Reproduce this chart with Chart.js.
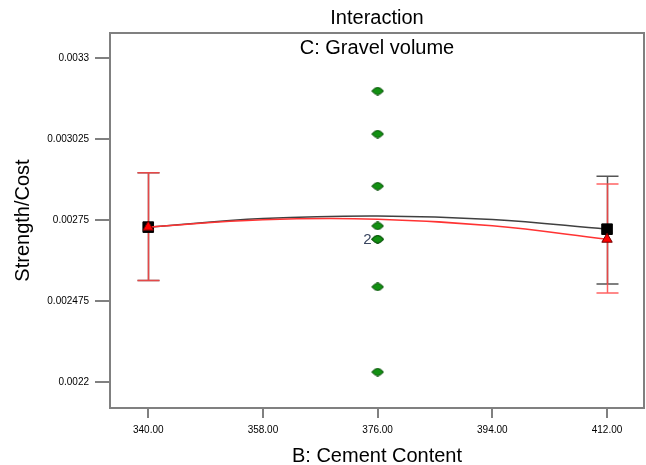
<!DOCTYPE html>
<html><head><meta charset="utf-8">
<script src="https://cdn.jsdelivr.net/npm/chart.js@4.4.1/dist/chart.umd.min.js"></script>
<style>html,body{margin:0;padding:0;background:#fff;}canvas{display:block;}</style>
</head><body>
<canvas id="c" width="646" height="465"></canvas>
<script>
const xLevels = [340, 358, 376, 394, 412];
const blackCurve = [0.002726, 0.002755, 0.002764, 0.002752, 0.002719];
const redCurve = [0.002726, 0.002751, 0.002753, 0.002731, 0.002685];
const barX = [340, 412];
const blackLow = [0.002545, 0.002533];
const blackHigh = [0.002911, 0.002899];
const redLow = [0.002545, 0.002502];
const redHigh = [0.002911, 0.002872];
const designX = [376, 376, 376, 376, 376, 376, 376, 376];
const designY = [0.003188, 0.003042, 0.002865, 0.002730, 0.002685, 0.002685, 0.002523, 0.002234];
const designLabels = ['', '', '', '', '2', '', '', ''];
const xTicks = [340, 358, 376, 394, 412];
const xTickLabels = ['340.00', '358.00', '376.00', '394.00', '412.00'];
const yTicks = [0.0022, 0.002475, 0.00275, 0.003025, 0.0033];
const yTickLabels = ['0.0022', '0.002475', '0.00275', '0.003025', '0.0033'];

const FONT = '"Liberation Sans", Arial, sans-serif';

// green diamond marker
const gm = document.createElement('canvas');
gm.width = 13; gm.height = 9;
(function(){
  const g = gm.getContext('2d');
  g.beginPath();
  g.moveTo(0.6, 4.5);
  g.quadraticCurveTo(4, 0.9, 6.5, 0.6);
  g.quadraticCurveTo(9, 0.9, 12.4, 4.5);
  g.quadraticCurveTo(9, 8.1, 6.5, 8.4);
  g.quadraticCurveTo(4, 8.1, 0.6, 4.5);
  g.closePath();
  g.fillStyle = '#129012';
  g.fill();
  g.lineWidth = 1;
  g.strokeStyle = '#0b4a0b';
  g.stroke();
})();

const errorBars = {
  id: 'errorBars',
  beforeDatasetsDraw(chart) {
    const {ctx, scales: {x, y}} = chart;
    const draw = (lo, hi, color) => {
      ctx.save();
      ctx.strokeStyle = color;
      ctx.lineWidth = 1.5;
      barX.forEach((v, i) => {
        const px = Math.round(x.getPixelForValue(v)) + 0.5;
        const p1 = y.getPixelForValue(lo[i]);
        const p2 = y.getPixelForValue(hi[i]);
        ctx.beginPath();
        ctx.moveTo(px, p1); ctx.lineTo(px, p2);
        ctx.moveTo(px - 11, p1); ctx.lineTo(px + 11, p1);
        ctx.moveTo(px - 11, p2); ctx.lineTo(px + 11, p2);
        ctx.stroke();
      });
      ctx.restore();
    };
    draw(blackLow, blackHigh, '#555555');
    draw(redLow, redHigh, 'rgba(255,70,70,0.85)');
  }
};

const decorations = {
  id: 'decorations',
  afterDatasetsDraw(chart) {
    const {ctx, scales: {x, y}} = chart;
    ctx.save();
    ctx.fillStyle = '#3a4660';
    ctx.font = '15px ' + FONT;
    ctx.textAlign = 'right';
    ctx.textBaseline = 'middle';
    designLabels.forEach((t, i) => {
      if (!t) return;
      ctx.fillText(t, x.getPixelForValue(designX[i]) - 6, y.getPixelForValue(designY[i]) + 1);
    });
    ctx.restore();
  },
  afterDraw(chart) {
    const {ctx, chartArea: a} = chart;
    ctx.save();
    ctx.strokeStyle = '#808080';
    ctx.lineWidth = 2;
    ctx.strokeRect(a.left, a.top, a.right - a.left, a.bottom - a.top);
    ctx.fillStyle = '#000';
    ctx.font = '20px ' + FONT;
    ctx.textAlign = 'center';
    ctx.textBaseline = 'middle';
    ctx.fillText('C: Gravel volume', (a.left + a.right) / 2, a.top + 15);
    ctx.restore();
  }
};

const endOnly = (r) => (c) => (c.dataIndex === 0 || c.dataIndex === xLevels.length - 1) ? r : 0;

new Chart(document.getElementById('c'), {
  type: 'line',
  data: {
    datasets: [
      {
        order: 2,
        data: xLevels.map((v, i) => ({x: v, y: blackCurve[i]})),
        borderColor: '#404040', borderWidth: 1.5, tension: 0.4,
        pointStyle: 'rect', pointRadius: endOnly(7.5), pointBackgroundColor: '#000', pointBorderColor: '#000', pointBorderWidth: 1
      },
      {
        order: 1,
        data: xLevels.map((v, i) => ({x: v, y: redCurve[i]})),
        borderColor: '#ff3333', borderWidth: 1.5, tension: 0.4,
        pointStyle: 'triangle', pointRadius: endOnly(6), pointBackgroundColor: '#ff0000', pointBorderColor: '#700000', pointBorderWidth: 1
      },
      {
        order: 0,
        data: designX.map((v, i) => ({x: v, y: designY[i]})),
        showLine: false, pointStyle: gm, pointRadius: 6
      }
    ]
  },
  options: {
    responsive: false, animation: false, devicePixelRatio: 1,
    layout: {autoPadding: false, padding: {left: 0, right: 2, top: 0, bottom: 0}},
    plugins: {
      legend: {display: false}, tooltip: {enabled: false},
      title: {display: true, text: 'Interaction', fullSize: false, color: '#000',
        font: {family: FONT, size: 20, weight: 'normal', lineHeight: 1.2}, padding: {top: 6, bottom: 3}}
    },
    scales: {
      x: {
        type: 'linear', min: 334, max: 417.8,
        afterFit(s) { s.height = 57; s.paddingLeft = 0; s.paddingRight = 0; },
        afterBuildTicks(s) { s.ticks = xTicks.map(v => ({value: v})); },
        ticks: {callback: (v, i) => xTickLabels[i], autoSkip: false, maxRotation: 0, padding: 6, color: '#000',
          font: {family: FONT, size: 10}},
        grid: {drawOnChartArea: false, drawTicks: true, tickLength: 10, color: '#808080', lineWidth: 2},
        border: {display: false},
        title: {display: true, text: 'B: Cement Content', color: '#000',
          font: {family: FONT, size: 20, lineHeight: 1}, padding: {top: 0, bottom: -1}}
      },
      y: {
        type: 'linear', min: 0.002112, max: 0.003385,
        afterFit(s) { s.width = 110; s.paddingTop = 0; s.paddingBottom = 0; },
        afterBuildTicks(s) { s.ticks = yTicks.map(v => ({value: v})); },
        ticks: {callback: (v, i) => yTickLabels[i], autoSkip: false, padding: 6, color: '#000',
          font: {family: FONT, size: 10}},
        grid: {drawOnChartArea: false, drawTicks: true, tickLength: 15, color: '#808080', lineWidth: 2},
        border: {display: false},
        title: {display: true, text: 'Strength/Cost', color: '#000',
          font: {family: FONT, size: 20, lineHeight: 1}, padding: {top: 13, bottom: 0}}
      }
    }
  },
  plugins: [errorBars, decorations]
});
</script>
</body></html>
